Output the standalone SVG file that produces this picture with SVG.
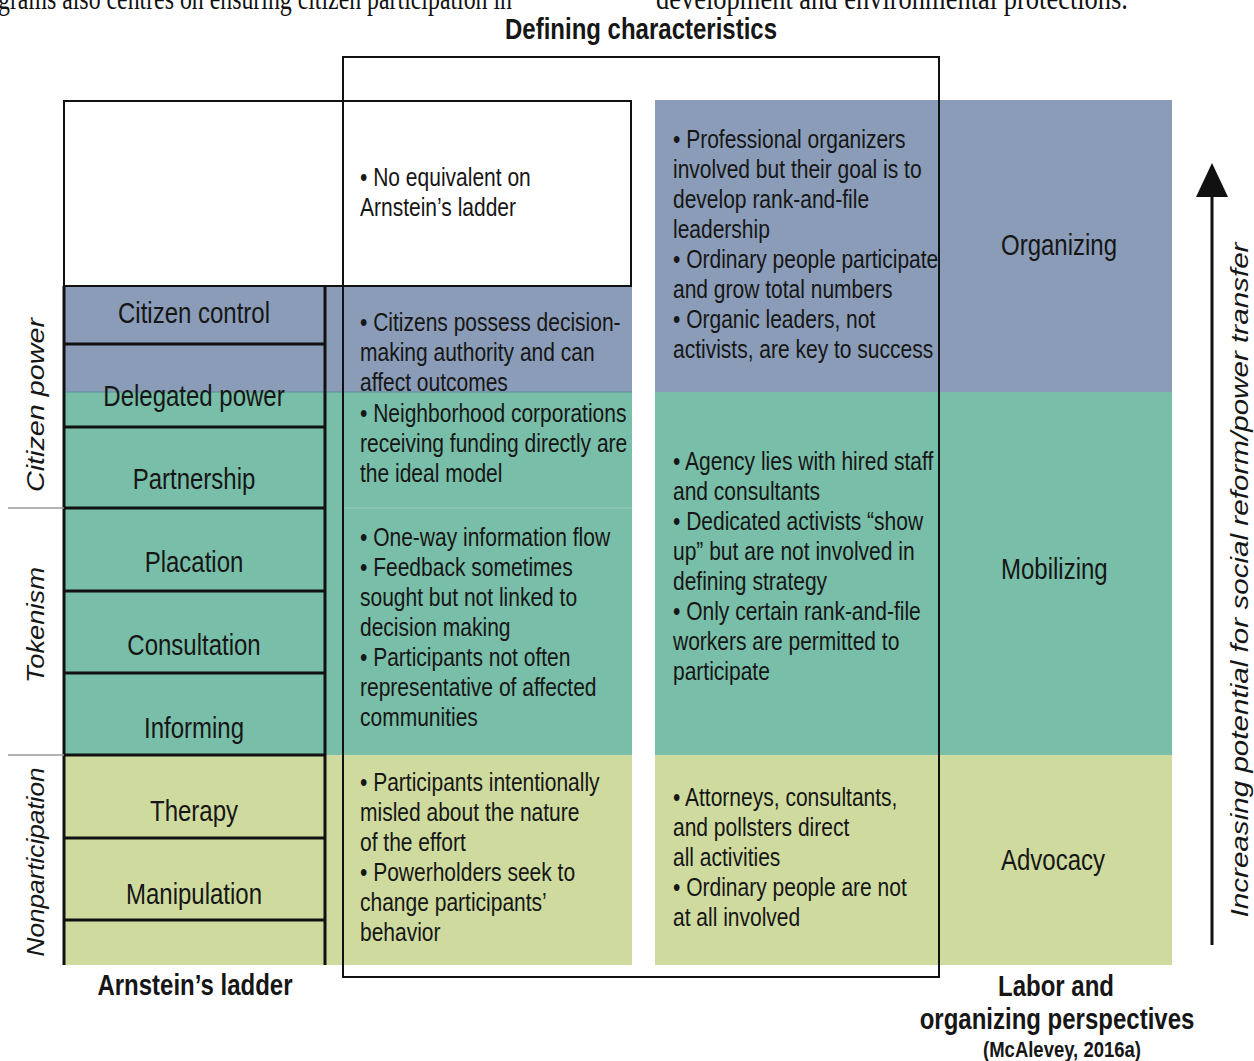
<svg xmlns="http://www.w3.org/2000/svg" width="1254" height="1061" viewBox="0 0 1254 1061">
<style>
text { font-family: "Liberation Sans", Arial, sans-serif; fill: #161616; }
.b { font-size: 21px; }
.l { font-size: 24px; }
.c { text-anchor: middle; }
.h { font-size: 24px; font-weight: bold; text-anchor: middle; }
.v { font-size: 24px; font-style: italic; text-anchor: middle; }
.s { font-family: "Liberation Serif", "Times New Roman", serif; font-size: 26px; fill: #111; }
.blue { fill: #8a9cb7; }
.teal { fill: #79bea8; }
.green { fill: #cfdb9e; }
.rung { stroke: #111; stroke-width: 3; fill: none; }
.frame { stroke: #111; stroke-width: 2; fill: none; }
.sep { stroke: #9a9a9a; stroke-width: 1.5; }
</style>
<defs>
<marker id="arrowhead" markerUnits="userSpaceOnUse" markerWidth="34" markerHeight="32" viewBox="0 0 34 32" refX="0" refY="16" orient="auto">
<path d="M0,0 L34,16 L0,32 z" fill="#111"/>
</marker>
</defs>
<rect x="0" y="0" width="1254" height="1061" fill="#ffffff"/>

<g id="page-text">
<text class="s" transform="translate(-2 9) scale(1 1.25)" textLength="514" lengthAdjust="spacingAndGlyphs">grams also centres on ensuring citizen participation in</text>
<text class="s" transform="translate(656 9) scale(1 1.25)" textLength="472" lengthAdjust="spacingAndGlyphs">development and environmental protections.</text>
</g>

<g id="title-defining">
<text class="h" transform="translate(641 39) scale(1 1.25)">Defining characteristics</text>
</g>

<g id="left-table">
<rect x="64" y="100" width="568" height="186" fill="#ffffff"/>
<rect class="blue" x="64" y="286" width="568" height="106"/>
<rect class="teal" x="64" y="392" width="568" height="363"/>
<rect class="green" x="64" y="755" width="568" height="210"/>
<line x1="64" y1="392" x2="632" y2="392" stroke="#5f8f9a" stroke-width="1"/>
<line x1="343" y1="508" x2="632" y2="508" stroke="#9fd2c0" stroke-width="1"/>
<path class="frame" d="M64,286 V101 H631 V286 H64"/>
</g>

<g id="ladder">
<line class="rung" x1="64" y1="286" x2="64" y2="965"/>
<line class="rung" x1="325" y1="286" x2="325" y2="965"/>
<line class="rung" x1="64" y1="344" x2="325" y2="344"/>
<line class="rung" x1="64" y1="427" x2="325" y2="427"/>
<line class="rung" x1="64" y1="508" x2="325" y2="508"/>
<line class="rung" x1="64" y1="591" x2="325" y2="591"/>
<line class="rung" x1="64" y1="673" x2="325" y2="673"/>
<line class="rung" x1="64" y1="755" x2="325" y2="755"/>
<line class="rung" x1="64" y1="838" x2="325" y2="838"/>
<line class="rung" x1="64" y1="920" x2="325" y2="920"/>
</g>

<g id="rung-citizen-control"><text class="l c" transform="translate(194 323) scale(1 1.25)">Citizen control</text></g>
<g id="rung-delegated-power"><text class="l c" transform="translate(194 406) scale(1 1.25)">Delegated power</text></g>
<g id="rung-partnership"><text class="l c" transform="translate(194 489) scale(1 1.25)">Partnership</text></g>
<g id="rung-placation"><text class="l c" transform="translate(194 572) scale(1 1.25)">Placation</text></g>
<g id="rung-consultation"><text class="l c" transform="translate(194 655) scale(1 1.25)">Consultation</text></g>
<g id="rung-informing"><text class="l c" transform="translate(194 738) scale(1 1.25)">Informing</text></g>
<g id="rung-therapy"><text class="l c" transform="translate(194 821) scale(1 1.25)">Therapy</text></g>
<g id="rung-manipulation"><text class="l c" transform="translate(194 904) scale(1 1.25)">Manipulation</text></g>

<g id="group-labels">
<line class="sep" x1="8" y1="508" x2="64" y2="508"/>
<line class="sep" x1="8" y1="755" x2="64" y2="755"/>
<text class="v" transform="translate(44 405) rotate(-90)" textLength="174" lengthAdjust="spacingAndGlyphs">Citizen power</text>
<text class="v" transform="translate(44 625) rotate(-90)" textLength="116" lengthAdjust="spacingAndGlyphs">Tokenism</text>
<text class="v" transform="translate(44 862) rotate(-90)" textLength="189" lengthAdjust="spacingAndGlyphs">Nonparticipation</text>
</g>

<g id="cell-no-equivalent">
<text class="b" transform="translate(360 186) scale(1 1.25)"><tspan x="0">• No equivalent on</tspan><tspan x="0" dy="24">Arnstein’s ladder</tspan></text>
</g>
<g id="cell-citizen-control">
<text class="b" transform="translate(360 331) scale(1 1.25)"><tspan x="0">• Citizens possess decision-</tspan><tspan x="0" dy="24">making authority and can</tspan><tspan x="0" dy="24">affect outcomes</tspan></text>
</g>
<g id="cell-neighborhood">
<text class="b" transform="translate(360 422) scale(1 1.25)"><tspan x="0">• Neighborhood corporations</tspan><tspan x="0" dy="24">receiving funding directly are</tspan><tspan x="0" dy="24">the ideal model</tspan></text>
</g>
<g id="cell-tokenism">
<text class="b" transform="translate(360 546) scale(1 1.25)"><tspan x="0">• One-way information flow</tspan><tspan x="0" dy="24">• Feedback sometimes</tspan><tspan x="0" dy="24">sought but not linked to</tspan><tspan x="0" dy="24">decision making</tspan><tspan x="0" dy="24">• Participants not often</tspan><tspan x="0" dy="24">representative of affected</tspan><tspan x="0" dy="24">communities</tspan></text>
</g>
<g id="cell-nonparticipation">
<text class="b" transform="translate(360 791) scale(1 1.25)"><tspan x="0">• Participants intentionally</tspan><tspan x="0" dy="24">misled about the nature</tspan><tspan x="0" dy="24">of the effort</tspan><tspan x="0" dy="24">• Powerholders seek to</tspan><tspan x="0" dy="24">change participants’</tspan><tspan x="0" dy="24">behavior</tspan></text>
</g>

<g id="right-table">
<rect class="blue" x="655" y="100" width="517" height="292"/>
<rect class="teal" x="655" y="392" width="517" height="363"/>
<rect class="green" x="655" y="755" width="517" height="210"/>
</g>

<g id="cell-organizing-desc">
<text class="b" transform="translate(673 148) scale(1 1.25)"><tspan x="0">• Professional organizers</tspan><tspan x="0" dy="24">involved but their goal is to</tspan><tspan x="0" dy="24">develop rank-and-file</tspan><tspan x="0" dy="24">leadership</tspan><tspan x="0" dy="24">• Ordinary people participate</tspan><tspan x="0" dy="24">and grow total numbers</tspan><tspan x="0" dy="24">• Organic leaders, not</tspan><tspan x="0" dy="24">activists, are key to success</tspan></text>
</g>
<g id="cell-organizing"><text class="l" transform="translate(1001 255) scale(1 1.25)">Organizing</text></g>

<g id="cell-mobilizing-desc">
<text class="b" transform="translate(673 470) scale(1 1.25)"><tspan x="0">• Agency lies with hired staff</tspan><tspan x="0" dy="24">and consultants</tspan><tspan x="0" dy="24">• Dedicated activists “show</tspan><tspan x="0" dy="24">up” but are not involved in</tspan><tspan x="0" dy="24">defining strategy</tspan><tspan x="0" dy="24">• Only certain rank-and-file</tspan><tspan x="0" dy="24">workers are permitted to</tspan><tspan x="0" dy="24">participate</tspan></text>
</g>
<g id="cell-mobilizing"><text class="l" transform="translate(1001 579) scale(1 1.25)">Mobilizing</text></g>

<g id="cell-advocacy-desc">
<text class="b" transform="translate(673 806) scale(1 1.25)"><tspan x="0">• Attorneys, consultants,</tspan><tspan x="0" dy="24">and pollsters direct</tspan><tspan x="0" dy="24">all activities</tspan><tspan x="0" dy="24">• Ordinary people are not</tspan><tspan x="0" dy="24">at all involved</tspan></text>
</g>
<g id="cell-advocacy"><text class="l" transform="translate(1001 870) scale(1 1.25)">Advocacy</text></g>

<g id="defining-frame">
<rect class="frame" x="343" y="57" width="596" height="920"/>
</g>

<g id="connectors">
<line x1="1212" y1="945" x2="1212" y2="197" stroke="#111" stroke-width="3" marker-end="url(#arrowhead)"/>
</g>

<g id="arrow-label">
<text class="v" transform="translate(1248 580) rotate(-90)" style="font-size:23px" textLength="675" lengthAdjust="spacingAndGlyphs">Increasing potential for social reform/power transfer</text>
</g>

<g id="label-arnstein">
<text class="h" transform="translate(195 995) scale(1 1.25)">Arnstein’s ladder</text>
</g>
<g id="label-labor">
<text class="h" transform="translate(1056 996) scale(1 1.25)">Labor and</text>
<text class="h" transform="translate(1057 1029) scale(1 1.25)">organizing perspectives</text>
<text class="h" transform="translate(1062 1057) scale(1 1.2)" style="font-size:18.5px">(McAlevey, 2016a)</text>
</g>
</svg>
